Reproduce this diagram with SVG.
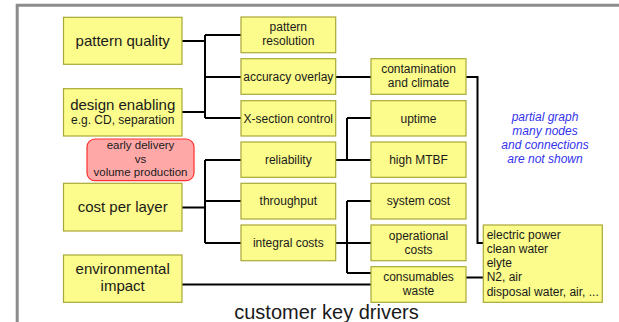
<svg xmlns="http://www.w3.org/2000/svg" width="619" height="322" viewBox="0 0 619 322">
  <style>
    .box { fill: #fcfc8c; stroke: #a8a838; stroke-width: 1.2; }
    .note { fill: #ffa8a8; stroke: #ff3030; stroke-width: 1.2; }
    .wire { fill: none; stroke: #000; stroke-width: 2; }
    text { font-family: "Liberation Sans", Arial, sans-serif; fill: #1a1a1a; }
    .big { font-size: 15px; text-anchor: middle; }
    .mid { font-size: 12px; text-anchor: middle; }
    .sm { font-size: 11.5px; text-anchor: middle; }
    .lst { font-size: 12px; }
    .remark { font-size: 12px; font-style: italic; fill: #3333ee; text-anchor: middle; }
    .title { font-size: 20px; text-anchor: middle; }
  </style>

  <rect width="619" height="322" fill="#fff"/>
  <!-- frame -->
  <path d="M17.2 322 V5.3 H619" fill="none" stroke="#8c8c8c" stroke-width="3"/>

  <!-- connectors -->
  <g id="connectors" class="wire">
    <path d="M182 41 H205 M182 112 H205 M205 35 V118 M205 35 H241 M205 77 H241 M205 118 H241"/>
    <path d="M336 77 H371"/>
    <path d="M466 77 H477.5 V243 H483"/>
    <path d="M336 160 H371 M347 118 V160 M347 118 H371"/>
    <path d="M182 207.5 H205 M205 160 V243 M205 160 H241 M205 201 H241 M205 243 H241"/>
    <path d="M336 243 H371 M347 201 V273 M347 201 H371 M347 273 H371"/>
    <path d="M182 284.5 H371"/>
    <path d="M466 277.5 H483"/>
  </g>

  <!-- left column -->
  <g id="pattern-quality">
    <rect class="box" x="63.5" y="17.3" width="118.5" height="47"/>
    <text class="big" x="122.7" y="45.5">pattern quality</text>
  </g>
  <g id="design-enabling">
    <rect class="box" x="63.5" y="88.7" width="118.5" height="47.3"/>
    <text class="big" x="122.7" y="110">design enabling</text>
    <text class="sm" x="122.7" y="124" style="font-size:12px">e.g. CD, separation</text>
  </g>
  <g id="early-delivery">
    <rect class="note" x="87" y="139" width="107" height="41.7" rx="8"/>
    <text class="sm" x="140.5" y="149">early delivery</text>
    <text class="sm" x="140.5" y="162.5">vs</text>
    <text class="sm" x="140.5" y="176">volume production</text>
  </g>
  <g id="cost-per-layer">
    <rect class="box" x="63.5" y="183.3" width="118.5" height="47.7"/>
    <text class="big" x="122.7" y="212">cost per layer</text>
  </g>
  <g id="environmental-impact">
    <rect class="box" x="63.5" y="255" width="118.5" height="47.3"/>
    <text class="big" x="122.7" y="273.5">environmental</text>
    <text class="big" x="122.7" y="291">impact</text>
  </g>

  <!-- middle column -->
  <g id="pattern-resolution">
    <rect class="box" x="241" y="17" width="94.7" height="35.7"/>
    <text class="mid" x="288.3" y="30.7">pattern</text>
    <text class="mid" x="288.3" y="45">resolution</text>
  </g>
  <g id="accuracy-overlay">
    <rect class="box" x="241" y="58.7" width="94.7" height="35.6"/>
    <text class="mid" x="288.3" y="80.7">accuracy overlay</text>
  </g>
  <g id="x-section-control">
    <rect class="box" x="241" y="100.7" width="94.7" height="35.3"/>
    <text class="mid" x="288.3" y="122.5">X-section control</text>
  </g>
  <g id="reliability">
    <rect class="box" x="241" y="142" width="94.7" height="35.3"/>
    <text class="mid" x="288.3" y="163.8">reliability</text>
  </g>
  <g id="throughput">
    <rect class="box" x="241" y="183.3" width="94.7" height="35.7"/>
    <text class="mid" x="288.3" y="205.3">throughput</text>
  </g>
  <g id="integral-costs">
    <rect class="box" x="241" y="225" width="94.7" height="35.7"/>
    <text class="mid" x="288.3" y="247">integral costs</text>
  </g>

  <!-- right column -->
  <g id="contamination">
    <rect class="box" x="371" y="58.7" width="95" height="35.6"/>
    <text class="mid" x="418.5" y="73">contamination</text>
    <text class="mid" x="418.5" y="87">and climate</text>
  </g>
  <g id="uptime">
    <rect class="box" x="371" y="100.7" width="95" height="35.3"/>
    <text class="mid" x="418.5" y="122.5">uptime</text>
  </g>
  <g id="high-mtbf">
    <rect class="box" x="371" y="142" width="95" height="35.3"/>
    <text class="mid" x="418.5" y="163.8">high MTBF</text>
  </g>
  <g id="system-cost">
    <rect class="box" x="371" y="183.3" width="95" height="35.7"/>
    <text class="mid" x="418.5" y="205.3">system cost</text>
  </g>
  <g id="operational-costs">
    <rect class="box" x="371" y="225" width="95" height="35.7"/>
    <text class="mid" x="418.5" y="240">operational</text>
    <text class="mid" x="418.5" y="254">costs</text>
  </g>
  <g id="consumables-waste">
    <rect class="box" x="371" y="266.7" width="95" height="35.6"/>
    <text class="mid" x="418.5" y="281">consumables</text>
    <text class="mid" x="418.5" y="295">waste</text>
  </g>

  <!-- utilities list -->
  <g id="utilities">
    <rect class="box" x="483.3" y="225" width="119" height="77.3"/>
    <text class="lst" x="486.7" y="239">electric power</text>
    <text class="lst" x="486.7" y="253">clean water</text>
    <text class="lst" x="486.7" y="267">elyte</text>
    <text class="lst" x="486.7" y="281">N2, air</text>
    <text class="lst" x="486.7" y="295.5">disposal water, air, ...</text>
  </g>

  <!-- remark -->
  <g id="remark">
    <text class="remark" x="545" y="121">partial graph</text>
    <text class="remark" x="545" y="135">many nodes</text>
    <text class="remark" x="545" y="149">and connections</text>
    <text class="remark" x="545" y="163">are not shown</text>
  </g>

  <text class="title" x="326.5" y="319">customer key drivers</text>
</svg>
